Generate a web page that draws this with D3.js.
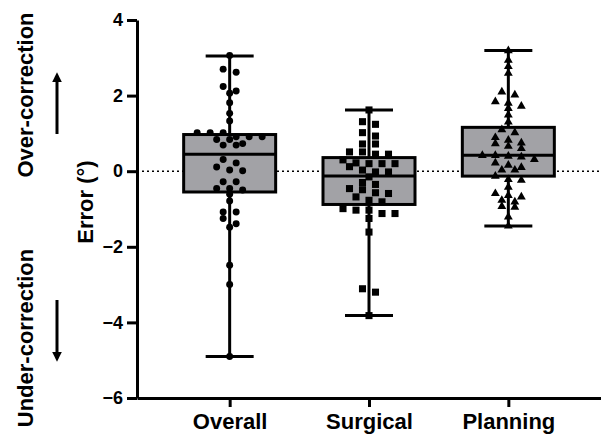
<!DOCTYPE html>
<html lang="en">
<head>
<meta charset="UTF-8">
<title>Error by group</title>
<script src="https://d3js.org/d3.v7.min.js"></script>
<style>
  body { margin: 0; background: #fff; }
  svg text { font-family: "Liberation Sans", Arial, sans-serif; font-weight: bold; fill: #000; }
</style>
</head>
<body>
<div id="plot"></div>
<script>
// groups and read-off values
var groups = ["Overall", "Surgical", "Planning"];

var overall = [3.06, 2.70, 2.62, 2.24, 2.12, 2.06, 1.81, 1.53, 1.33, 1.02, 1.02, 1.02, 0.91, 0.91, 0.91,
  0.84, 0.84, 0.73, 0.69, 0.69, 0.31, 0.22, 0.11, 0.03, 0.01, -0.28, -0.28, -0.46, -0.46, -0.50,
  -0.61, -0.79, -1.08, -1.08, -1.25, -1.39, -1.48, -2.49, -3.00, -4.90];

var surgical = [1.62, 1.31, 1.24, 1.02, 0.93, 0.72, 0.72, 0.51, 0.51, 0.45, 0.45, 0.30, 0.22, 0.20,
  0.20, 0.20, 0.12, 0.03, -0.02, -0.02, -0.15, -0.30, -0.35, -0.46, -0.49, -0.57, -0.59, -0.68,
  -0.77, -0.81, -0.99, -1.03, -1.03, -1.12, -1.12, -1.25, -1.61, -3.11, -3.20, -3.82];

var planning = [3.19, 2.94, 2.77, 2.59, 2.10, 2.02, 1.84, 1.80, 1.72, 1.66, 1.49, 1.30, 1.10, 1.02,
  0.89, 0.82, 0.75, 0.73, 0.66, 0.60, 0.42, 0.42, 0.40, 0.38, 0.31, 0.22, 0.16, 0.10, 0.03, 0.03,
  -0.13, -0.22, -0.24, -0.42, -0.59, -0.64, -0.68, -0.77, -0.81, -0.93, -0.95, -1.21, -1.45];

// box stats (min, q1, median, q3, max) per group
var whiskerLow = [-4.90, -3.82, -1.45];
var q1 = [-0.55, -0.88, -0.13];
var median = [0.45, -0.13, 0.42];
var q3 = [0.97, 0.36, 1.16];
var whiskerHigh = [3.05, 1.62, 3.19];

var yTicks = [-6, -4, -2, 0, 2, 4];

var width = 601, height = 435;
var margin = { left: 137, top: 20, bottom: 37 };

var svg = d3.select("#plot").append("svg")
  .attr("width", width)
  .attr("height", height);

var y = d3.scaleLinear().domain([-6, 4]).range([height - margin.bottom, margin.top]);
var x = d3.scalePoint().domain(groups).range([margin.left, width]).padding(0.665);

var allValues = [overall, surgical, planning];
var shapes = [d3.symbolCircle, d3.symbolSquare, d3.symbolTriangle];
var shapeSize = [38, 50, 34];

// dotted zero line (behind boxes)
svg.append("line")
  .attr("x1", margin.left).attr("x2", width)
  .attr("y1", y(0)).attr("y2", y(0))
  .attr("stroke", "#000")
  .attr("stroke-width", 1.6)
  .attr("stroke-dasharray", "2,3");

var boxHalf = 46, capHalf = 24;

groups.forEach(function (g, i) {
  var cx = x(g);
  var grp = svg.append("g");

  // whisker
  grp.append("line")
    .attr("x1", cx).attr("x2", cx)
    .attr("y1", y(whiskerLow[i])).attr("y2", y(whiskerHigh[i]))
    .attr("stroke", "#000").attr("stroke-width", 3);
  [whiskerLow[i], whiskerHigh[i]].forEach(function (v) {
    grp.append("line")
      .attr("x1", cx - capHalf).attr("x2", cx + capHalf)
      .attr("y1", y(v)).attr("y2", y(v))
      .attr("stroke", "#000").attr("stroke-width", 3);
  });

  // box
  grp.append("rect")
    .attr("x", cx - boxHalf)
    .attr("y", y(q3[i]))
    .attr("width", boxHalf * 2)
    .attr("height", y(q1[i]) - y(q3[i]))
    .attr("fill", "#a2a2a6")
    .attr("stroke", "#000")
    .attr("stroke-width", 3);

  grp.append("line")
    .attr("x1", cx - boxHalf).attr("x2", cx + boxHalf)
    .attr("y1", y(median[i])).attr("y2", y(median[i]))
    .attr("stroke", "#000").attr("stroke-width", 3);

  // points: group into rows of close values, centre each row
  var sorted = allValues[i].slice().sort(function (a, b) { return b - a; });
  var rows = [];
  sorted.forEach(function (v) {
    var last = rows[rows.length - 1];
    if (last && y(v) - y(last[0]) < 5.5) last.push(v);
    else rows.push([v]);
  });
  var pts = [];
  rows.forEach(function (row) {
    row.forEach(function (v, k) {
      pts.push({ v: v, dx: (k - (row.length - 1) / 2) * 13 });
    });
  });

  grp.selectAll("path.pt")
    .data(pts)
    .join("path")
    .attr("class", "pt")
    .attr("d", d3.symbol().type(shapes[i]).size(shapeSize[i]))
    .attr("transform", function (d) { return "translate(" + (cx + d.dx) + "," + y(d.v) + ")"; })
    .attr("fill", "#000");
});

// axes
var yAxis = svg.append("g")
  .attr("transform", "translate(" + margin.left + ",0)")
  .call(d3.axisLeft(y).tickValues(yTicks).tickSize(10).tickPadding(4).tickSizeOuter(0));
yAxis.select(".domain").attr("stroke-width", 3);
yAxis.selectAll(".tick line").attr("stroke-width", 3);
yAxis.selectAll("text").style("font-size", "18px");

var xAxis = svg.append("g")
  .attr("transform", "translate(0," + y(-6) + ")")
  .call(d3.axisBottom(x).tickSize(9).tickPadding(6).tickSizeOuter(0));
xAxis.select(".domain").attr("stroke-width", 3);
xAxis.selectAll(".tick line").attr("stroke-width", 3);
xAxis.selectAll("text").style("font-size", "22px");

// axis title and side annotations
svg.append("text")
  .attr("transform", "translate(85,202) rotate(-90)")
  .attr("text-anchor", "middle")
  .attr("dy", "0.36em")
  .style("font-size", "22px")
  .text("Error (°)");

svg.append("text")
  .attr("transform", "translate(25,95) rotate(-90)")
  .attr("text-anchor", "middle")
  .attr("dy", "0.36em")
  .style("font-size", "22px")
  .text("Over-correction");

svg.append("text")
  .attr("transform", "translate(25,338) rotate(-90)")
  .attr("text-anchor", "middle")
  .attr("dy", "0.36em")
  .style("font-size", "22px")
  .text("Under-correction");

// direction arrows
var defs = svg.append("defs");
defs.append("marker")
  .attr("id", "head")
  .attr("viewBox", "0 0 10 10")
  .attr("refX", 2).attr("refY", 5)
  .attr("markerWidth", 3.2).attr("markerHeight", 3.2)
  .attr("orient", "auto")
  .append("path")
  .attr("d", "M0,0 L10,5 L0,10 Z")
  .attr("fill", "#000");

svg.append("line")
  .attr("x1", 57).attr("x2", 57).attr("y1", 134).attr("y2", 80)
  .attr("stroke", "#000").attr("stroke-width", 3)
  .attr("marker-end", "url(#head)");
svg.append("line")
  .attr("x1", 57).attr("x2", 57).attr("y1", 300).attr("y2", 354)
  .attr("stroke", "#000").attr("stroke-width", 3)
  .attr("marker-end", "url(#head)");
</script>
</body>
</html>
